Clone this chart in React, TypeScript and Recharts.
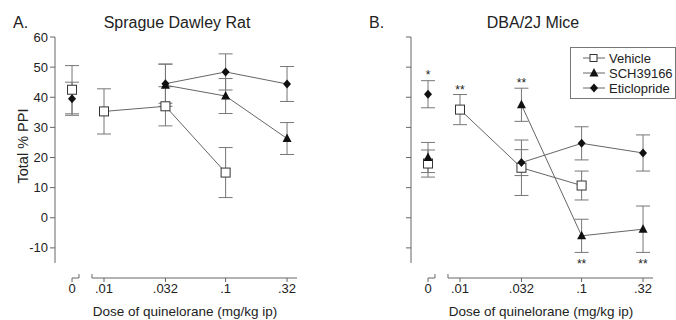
import React from 'react';
import { ComposedChart, Line, XAxis, YAxis, ErrorBar, ReferenceLine } from 'recharts';

const FONT = '"Liberation Sans", Arial, sans-serif';
const INK = '#222';
const GREY = '#666';

const doses = [0.01, 0.032, 0.1, 0.32];
const doseLabels = ['.01', '.032', '.1', '.32'];
const yTicks = [-10, 0, 10, 20, 30, 40, 50, 60];

// zero-dose values, order: vehicle, sch39166, eticlopride
const ratZero = [42.5, null, 39.5];
const ratZeroErr = [8, null, 5.5];
const ratVehicle = [35.3, 37, 15, null];
const ratVehicleErr = [7.5, 6.5, 8.3, null];
const ratSch = [null, 44, 40.4, 26.3];
const ratSchErr = [null, 7, 5.8, 5.3];
const ratEtic = [null, 44.5, 48.4, 44.4];
const ratEticErr = [null, 6.5, 6, 5.8];

const miceZero = [18, 20, 41];
const miceZeroErr = [4.5, 5, 4.5];
const miceVehicle = [35.9, 16.6, 10.7, null];
const miceVehicleErr = [5, 9.2, 4.8, null];
const miceSch = [null, 37.5, -6, -3.8];
const miceSchErr = [null, 5.5, 5.5, 7.7];
const miceEtic = [null, 18.3, 24.7, 21.5];
const miceEticErr = [null, 4.3, 5.5, 6];

// significance marks (panel B)
const starDose = [0, 0.01, 0.032, 0.1, 0.32];
const starY = [48.4, 43.4, 45.7, -14.3, -14.3];
const starText = ['*', '**', '**', '**', '**'];

// broken log axis layout (log10 units)
const X_MIN = -2.403;
const X_MAX = -0.413;
const ZERO_POS = -2.263;
const ZERO_END = -2.206;
const AXIS_START = -2.099;
const Y_MIN = -20;

const pos = (d: number) => (d === 0 ? ZERO_POS : Math.log10(d));

const series = (vals: (number | null)[], errs: (number | null)[]) =>
  vals
    .map((v, i) => (v == null ? null : { x: pos(doses[i]), y: v, e: errs[i] }))
    .filter(Boolean) as { x: number; y: number; e: number }[];

const starData = starDose.map((d, i) => ({ x: pos(d), y: starY[i], label: starText[i] }));

const Square = (p: any) =>
  p.cx == null ? null : (
    <rect key={`s${p.cx}-${p.cy}`} x={p.cx - 4.5} y={p.cy - 4.5} width={9} height={9} fill="#fff" stroke="#333" strokeWidth={1} />
  );
const Triangle = (p: any) =>
  p.cx == null ? null : (
    <polygon key={`t${p.cx}-${p.cy}`} points={`${p.cx},${p.cy - 5} ${p.cx + 4.5},${p.cy + 3.5} ${p.cx - 4.5},${p.cy + 3.5}`} fill="#111" />
  );
const Diamond = (p: any) =>
  p.cx == null ? null : (
    <polygon key={`d${p.cx}-${p.cy}`} points={`${p.cx},${p.cy - 4.5} ${p.cx + 4},${p.cy} ${p.cx},${p.cy + 4.5} ${p.cx - 4},${p.cy}`} fill="#111" />
  );
const Star = (p: any) =>
  p.cx == null ? null : (
    <text key={`a${p.cx}-${p.cy}`} x={p.cx} y={p.cy + 7} textAnchor="middle" fontSize={12} fontFamily={FONT} fill={INK}>
      {p.payload.label}
    </text>
  );

const shapes = [Square, Triangle, Diamond];

const NoLabel = () => <g />;

function Panel({ width, marginRight, zero, zeroErr, lines, showLabels, stars }: any) {
  const tickPos = [ZERO_POS, ...doses.map(pos)];
  const tickFmt = (v: number) => {
    const i = tickPos.findIndex((t) => Math.abs(t - v) < 1e-6);
    return i === 0 ? '0' : doseLabels[i - 1];
  };
  return (
    <ComposedChart width={width} height={320} margin={{ top: 37, right: marginRight, bottom: 12, left: 10 }}>
      <XAxis
        type="number"
        dataKey="x"
        domain={[X_MIN, X_MAX]}
        ticks={tickPos}
        tickFormatter={tickFmt}
        axisLine={false}
        tickSize={4}
        tickMargin={2}
        height={30}
        allowDataOverflow
        stroke={GREY}
        tick={{ fontSize: 13, fill: INK, fontFamily: FONT }}
      />
      <YAxis
        type="number"
        dataKey="y"
        domain={[Y_MIN, 60]}
        ticks={yTicks}
        axisLine={false}
        tickSize={5}
        tickMargin={2}
        width={45}
        allowDataOverflow
        stroke={GREY}
        tick={showLabels ? { fontSize: 13, fill: INK, fontFamily: FONT } : NoLabel}
      />
      <ReferenceLine segment={[{ x: X_MIN, y: -15 }, { x: X_MIN, y: 60 }]} stroke={GREY} ifOverflow="visible" />
      <ReferenceLine segment={[{ x: ZERO_POS, y: Y_MIN }, { x: ZERO_END, y: Y_MIN }]} stroke={GREY} ifOverflow="visible" />
      <ReferenceLine segment={[{ x: ZERO_END, y: Y_MIN }, { x: ZERO_END, y: Y_MIN + 1.3 }]} stroke={GREY} ifOverflow="visible" />
      <ReferenceLine segment={[{ x: AXIS_START, y: Y_MIN }, { x: X_MAX, y: Y_MIN }]} stroke={GREY} ifOverflow="visible" />
      <ReferenceLine segment={[{ x: AXIS_START, y: Y_MIN }, { x: AXIS_START, y: Y_MIN + 1.3 }]} stroke={GREY} ifOverflow="visible" />
      {lines.map((l: any, i: number) => (
        <Line
          key={`l${i}`}
          data={series(l.vals, l.errs)}
          dataKey="y"
          stroke={GREY}
          strokeWidth={1}
          dot={shapes[i]}
          activeDot={false}
          isAnimationActive={false}
        >
          <ErrorBar dataKey="e" width={7} stroke="#777" strokeWidth={1} direction="y" />
        </Line>
      ))}
      {zero.map((v: number | null, i: number) =>
        v == null ? null : (
          <Line
            key={`z${i}`}
            data={[{ x: ZERO_POS, y: v, e: zeroErr[i] }]}
            dataKey="y"
            stroke="none"
            dot={shapes[i]}
            activeDot={false}
            isAnimationActive={false}
          >
            <ErrorBar dataKey="e" width={7} stroke="#777" strokeWidth={1} direction="y" />
          </Line>
        )
      )}
      {stars && (
        <Line data={starData} dataKey="y" stroke="none" dot={Star} activeDot={false} isAnimationActive={false} />
      )}
    </ComposedChart>
  );
}

export default function App() {
  return (
    <div style={{ position: 'relative', width: 676, height: 320, overflow: 'hidden', background: '#fff' }}>
      <style>{'body{margin:0}'}</style>
      <div style={{ position: 'absolute', left: 0, top: 0 }}>
        <Panel
          width={340}
          marginRight={43}
          zero={ratZero}
          zeroErr={ratZeroErr}
          showLabels
          lines={[
            { vals: ratVehicle, errs: ratVehicleErr },
            { vals: ratSch, errs: ratSchErr },
            { vals: ratEtic, errs: ratEticErr },
          ]}
        />
      </div>
      <div style={{ position: 'absolute', left: 356, top: 0 }}>
        <Panel
          width={320}
          marginRight={23}
          zero={miceZero}
          zeroErr={miceZeroErr}
          showLabels={false}
          stars
          lines={[
            { vals: miceVehicle, errs: miceVehicleErr },
            { vals: miceSch, errs: miceSchErr },
            { vals: miceEtic, errs: miceEticErr },
          ]}
        />
      </div>
      <svg width={676} height={320} style={{ position: 'absolute', left: 0, top: 0, pointerEvents: 'none' }} fontFamily={FONT} fill={INK}>
        <text x={13} y={28} fontSize={16}>A.</text>
        <text x={177} y={28} fontSize={16} textAnchor="middle">Sprague Dawley Rat</text>
        <text x={369} y={28} fontSize={16}>B.</text>
        <text x={533} y={28} fontSize={16} textAnchor="middle">DBA/2J Mice</text>
        <text x={185} y={316} fontSize={13.5} textAnchor="middle">Dose of quinelorane (mg/kg ip)</text>
        <text x={541} y={316} fontSize={13.5} textAnchor="middle">Dose of quinelorane (mg/kg ip)</text>
        <text transform="translate(28,146) rotate(-90)" fontSize={14.5} textAnchor="middle">Total % PPI</text>
        <g transform="translate(570,47)">
          <rect x={0.5} y={0.5} width={105} height={51} fill="#fff" stroke="#777" />
          {['Vehicle', 'SCH39166', 'Eticlopride'].map((name, i) => {
            const cy = 11 + i * 15;
            const Shape = shapes[i];
            return (
              <g key={name}>
                <line x1={13} x2={35} y1={cy} y2={cy} stroke={GREY} />
                {i === 0 ? (
                  <rect x={20} y={cy - 3.5} width={7} height={7} fill="#fff" stroke="#333" />
                ) : (
                  Shape({ cx: 24, cy })
                )}
                <text x={39} y={cy + 4.5} fontSize={13}>{name}</text>
              </g>
            );
          })}
        </g>
      </svg>
    </div>
  );
}
